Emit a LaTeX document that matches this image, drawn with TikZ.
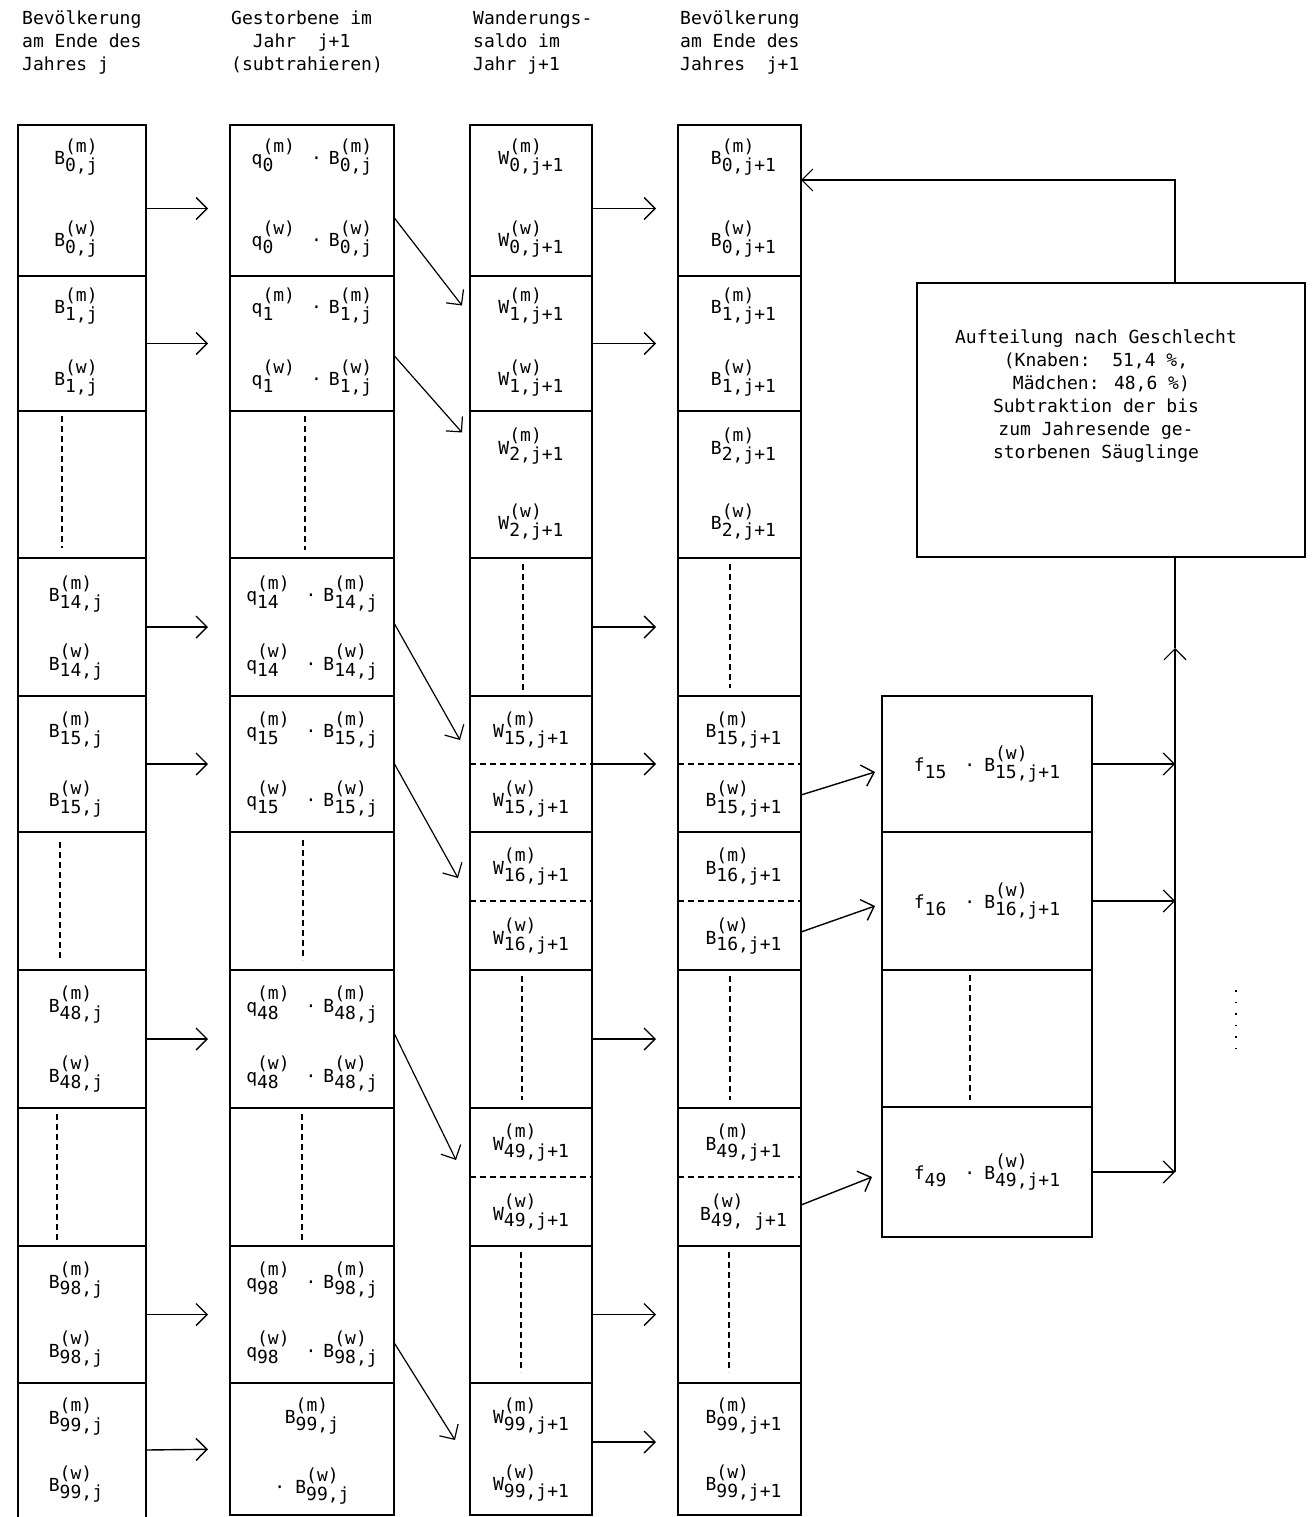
\documentclass[tikz,border=0pt]{standalone}
\usepackage{fontspec}
\setmainfont{DejaVu Sans Mono}
\usetikzlibrary{arrows.meta,calc}
\newsavebox\supbx
\newsavebox\subbx
\newlength\scrwd
\newcommand\V[3]{#1\sbox\supbx{#2}\sbox\subbx{#3}%
  \setlength\scrwd{\wd\supbx}%
  \ifdim\wd\subbx>\scrwd\setlength\scrwd{\wd\subbx}\fi
  \rlap{\raisebox{12.4pt}{\usebox\supbx}}%
  \rlap{\raisebox{-6.7pt}{\usebox\subbx}}%
  \hspace*{\scrwd}}
\begin{document}
\begin{tikzpicture}[x=1pt,y=-1pt,
  every node/.style={font=\fontsize{18}{23}\selectfont},
  cell/.style={draw,rectangle,line width=1.8pt,inner sep=0pt,outer sep=0pt},
  lab/.style={inner sep=0pt},
  hdr/.style={anchor=north west,align=left,inner sep=0pt},
  arr/.style={line width=1.4pt,-{Straight Barb[length=11pt,width=22pt]}},
  diag/.style={line width=1.2pt,-{Straight Barb[length=11pt,width=22pt]}},
  dsh/.style={line width=1.1pt,dash pattern=on 6pt off 4pt},
  conn/.style={line width=1.2pt}]
\useasboundingbox (0,0) rectangle (1314,1517);

% headers
\node[hdr] (h1) at (22,11) {Bevölkerung\\am Ende des\\Jahres j};
\node[hdr] (h2) at (231,11) {Gestorbene im\\\hphantom{Ge}Jahr\ \ j+1\\(subtrahieren)};
\node[hdr] (h3) at (473,11) {Wanderungs-\\saldo im\\Jahr j+1};
\node[hdr] (h4) at (680,11) {Bevölkerung\\am Ende des\\Jahres\ \ j+1};

% column cells
\foreach \r/\yt/\yb in {0/125/276,1/276/411,2/411/558,3/558/696,4/696/832,5/832/970,6/970/1108,7/1108/1246,8/1246/1383}
  \node[cell,minimum width=128pt,minimum height={(\yb-\yt)*1pt}] (a\r) at (82,{(\yt+\yb)/2}) {};
\node[cell,draw=none,minimum width=128pt,minimum height=134pt] (a9) at (82,1450) {};
\draw[line width=1.8pt] (a9.north west) -- (a9.south west) (a9.north east) -- (a9.south east);
\foreach \c/\xl/\xr in {b/230/394,c/470/592,d/678/801}
  \foreach \r/\yt/\yb in {0/125/276,1/276/411,2/411/558,3/558/696,4/696/832,5/832/970,6/970/1108,7/1108/1246,8/1246/1383,9/1383/1515}
    \node[cell,minimum width={(\xr-\xl)*1pt},minimum height={(\yb-\yt)*1pt}] (\c\r) at ({(\xl+\xr)/2},{(\yt+\yb)/2}) {};

% fertility boxes
\foreach \r/\yt/\yb in {0/696/832,1/832/970,2/970/1107,3/1107/1237}
  \node[cell,minimum width=210pt,minimum height={(\yb-\yt)*1pt}] (f\r) at (987,{(\yt+\yb)/2}) {};

% split box
\node[cell,minimum width=388pt,minimum height=274pt] (split) at (1111,420) {};
\node[align=center,inner sep=0pt] (splittxt) at (1096,396) {Aufteilung nach Geschlecht\\(Knaben:\ \ 51,4 \%,\\\ Mädchen: 48,6 \%)\\Subtraktion der bis\\zum Jahresende ge-\\storbenen Säuglinge};

% dashed separators
\foreach \x/\ya/\yb in {62/416/548,60/842/958,57/1114/1240,305/416/550,303/840/960,302/1114/1240,523/564/690,522/976/1100,521/1252/1372,730/564/688,730/976/1100,729/1252/1372,970/975/1100}
  \draw[dsh] (\x,\ya) -- (\x,\yb);
\foreach \n in {c4,c5,c7,d4,d5,d7}
  \draw[dsh] (\n.west) -- (\n.east);
\draw[line width=1.3pt,dash pattern=on 1.5pt off 10pt] (1236,990) -- (1236,1056);

% labels column a
\foreach \r/\k/\fm in {0/0/0.21,1/1/0.22,3/14/0.26,4/15/0.25,6/48/0.25,8/98/0.25,9/99/0.25}{
  \node[lab,xshift=-6pt] (am\r) at ($(a\r.north)!\fm!(a\r.south)$) {\V{B}{(m)}{\k,j}};
  \node[lab,xshift=-6pt] (aw\r) at ($(a\r.north)!0.755!(a\r.south)$) {\V{B}{(w)}{\k,j}};
}
% labels column b
\foreach \r/\k/\fm in {0/0/0.21,1/1/0.22,3/14/0.26,4/15/0.25,6/48/0.25,8/98/0.25}{
  \node[lab] (bm\r) at ($(b\r.north)!\fm!(b\r.south)$) {\V{q}{(m)}{\k}\hspace{16pt}·\hspace{7pt}\V{B}{(m)}{\k,j}};
  \node[lab] (bw\r) at ($(b\r.north)!0.755!(b\r.south)$) {\V{q}{(w)}{\k}\hspace{16pt}·\hspace{7pt}\V{B}{(w)}{\k,j}};
}
\node[lab] (bm9) at ($(b9.north)!0.25!(b9.south)$) {\V{B}{(m)}{99,j}};
\node[lab] (bw9) at ($(b9.north)!0.78!(b9.south)$) {·\hspace{10pt}\V{B}{(w)}{99,j}};
% labels column c
\foreach \r/\k/\fm in {0/0/0.21,1/1/0.22,2/2/0.24,4/15/0.25,5/16/0.25,7/49/0.25,9/99/0.25}{
  \node[lab] (cm\r) at ($(c\r.north)!\fm!(c\r.south)$) {\V{W}{(m)}{\k,j+1}};
  \node[lab] (cw\r) at ($(c\r.north)!0.755!(c\r.south)$) {\V{W}{(w)}{\k,j+1}};
}
% labels column d
\foreach \r/\k/\fm in {0/0/0.21,1/1/0.22,2/2/0.24,4/15/0.25,5/16/0.25,9/99/0.25}{
  \node[lab,xshift=4pt] (dm\r) at ($(d\r.north)!\fm!(d\r.south)$) {\V{B}{(m)}{\k,j+1}};
  \node[lab,xshift=4pt] (dw\r) at ($(d\r.north)!0.755!(d\r.south)$) {\V{B}{(w)}{\k,j+1}};
}
\node[lab,xshift=4pt] (dm7) at ($(d7.north)!0.25!(d7.south)$) {\V{B}{(m)}{49,j+1}};
\node[lab,xshift=4pt] (dw7) at ($(d7.north)!0.755!(d7.south)$) {\V{B}{(w)}{49,\ j+1}};
% labels f boxes
\node[lab] (fl0) at (f0) {\V{f}{}{15}\hspace{18pt}·\hspace{9pt}\V{B}{(w)}{15,j+1}};
\node[lab] (fl1) at (f1) {\V{f}{}{16}\hspace{18pt}·\hspace{9pt}\V{B}{(w)}{16,j+1}};
\node[lab] (fl3) at (f3) {\V{f}{}{49}\hspace{18pt}·\hspace{9pt}\V{B}{(w)}{49,j+1}};

% horizontal arrows a -> b
\draw[arr,shorten >=22pt] ([yshift=-8pt]a0.east) -- ([yshift=-8pt]b0.west);
\foreach \r in {1,3,4,6,8,9}
  \draw[arr,shorten >=22pt] (a\r.east) -- (b\r.west);
% horizontal arrows c -> d
\draw[arr,shorten >=22pt] ([yshift=-8pt]c0.east) -- ([yshift=-8pt]d0.west);
\foreach \r in {1,3,4,6,8}
  \draw[arr,shorten >=22pt] (c\r.east) -- (d\r.west);
\draw[arr,shorten >=22pt] ([yshift=7pt]c9.east) -- ([yshift=7pt]d9.west);

% diagonal arrows b -> c
\draw[diag] ([yshift=-17pt]b0.east) -- ([xshift=-8pt,yshift=38pt]c1.west);
\draw[diag] ([yshift=-12pt]b1.east) -- ([xshift=-8pt,yshift=52pt]c2.west);
\draw[diag] ([yshift=4pt]b3.east) -- ([xshift=-10pt,yshift=24pt]c4.west);
\draw[diag] ([yshift=1pt]b4.east) -- ([xshift=-12pt,yshift=23pt]c5.west);
\draw[diag] ([yshift=6pt]b6.east) -- ([xshift=-14pt,yshift=17pt]c7.west);
\draw[diag] ([yshift=-28pt]b8.east) -- ([xshift=-15pt,yshift=9pt]c9.west);

% d -> f arrows
\draw[arr] ([yshift=-31pt]d4.east) -- ([xshift=-7pt,yshift=-8pt]f0.west);
\draw[arr] ([yshift=-31pt]d5.east) -- ([xshift=-7pt,yshift=-5pt]f1.west);
\draw[arr] ([yshift=-28pt]d7.east) -- ([xshift=-10pt,yshift=-5pt]f3.west);

% right side collector
\coordinate (vx) at (1175,180);
\coordinate (vup) at (1175,648);
\foreach \r in {0,1,3}
  \draw[arr,line width=1.2pt] (f\r.east) -- (f\r.east -| vx);
\draw[arr,line width=1.2pt] (f3.east -| vx) -- (vup);
\draw[conn] (vup) -- (split.south -| vx);
\draw[arr,line width=1.2pt] (split.north -| vx) |- (d0.east |- vx);
\end{tikzpicture}
\end{document}
